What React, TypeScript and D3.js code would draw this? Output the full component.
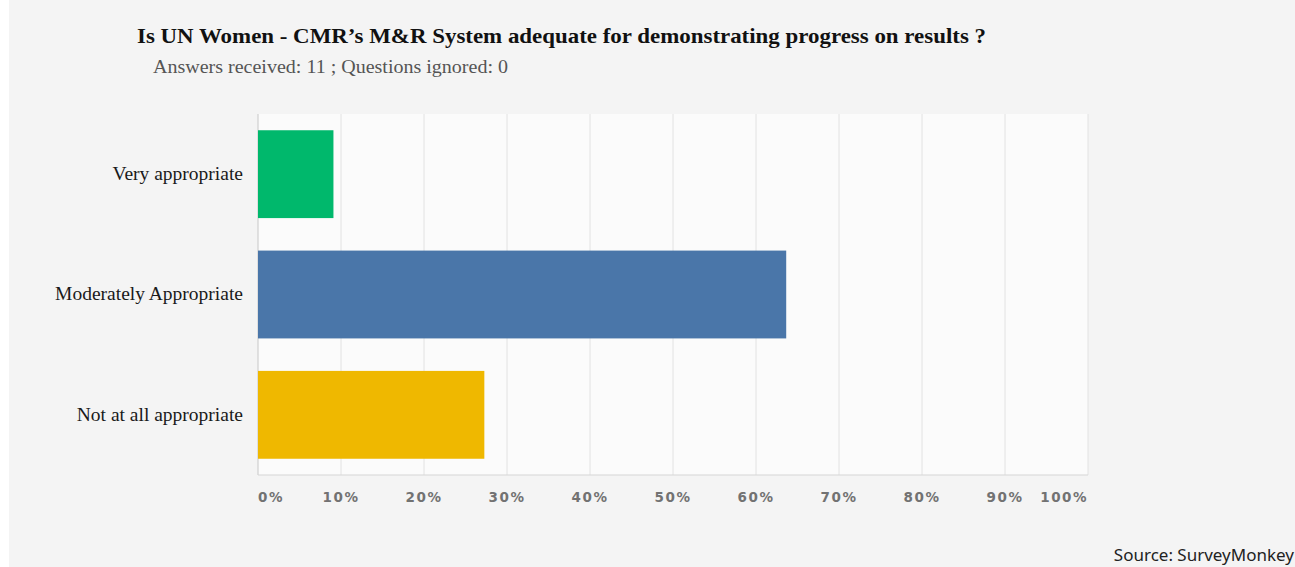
import { useMemo } from "react";
import * as d3 from "d3";

const categories = ["Very appropriate", "Moderately Appropriate", "Not at all appropriate"];
const shares = [9.09, 63.64, 27.27];
const barColors = ["#00b86c", "#4a76a9", "#efb800"];
const tickValues = [0, 10, 20, 30, 40, 50, 60, 70, 80, 90, 100];

const W = 1295;
const H = 567;

export default function App() {
  const margin = { top: 114, right: 207, bottom: 92, left: 258 };
  const innerW = W - margin.left - margin.right;
  const innerH = H - margin.top - margin.bottom;

  const x = useMemo(() => d3.scaleLinear().domain([0, 100]).range([0, innerW]), [innerW]);
  const y = useMemo(
    () => d3.scaleBand<string>().domain(categories).range([0, innerH]).paddingInner(0.27).paddingOuter(0.135),
    [innerH]
  );

  return (
    <svg width={W} height={H} style={{ position: "absolute", left: 0, top: 0 }}>
      <rect x={0} y={0} width={W} height={H} fill="#f4f4f4" />
      <rect x={0} y={0} width={9} height={H} fill="#ffffff" />

      {/* the source image is slightly stretched horizontally, so pin the widths */}
      <text
        x={137}
        y={43}
        fontFamily="'Liberation Serif', serif"
        fontWeight="bold"
        fontSize={21.5}
        fill="#111"
        textLength={849}
        lengthAdjust="spacingAndGlyphs"
      >
        Is UN Women - CMR’s M&amp;R System adequate for demonstrating progress on results ?
      </text>
      <text
        x={153}
        y={73}
        fontFamily="'Liberation Serif', serif"
        fontSize={18}
        fill="#555"
        textLength={355}
        lengthAdjust="spacingAndGlyphs"
      >
        Answers received: 11 ; Questions ignored: 0
      </text>

      <g transform={`translate(${margin.left},${margin.top})`}>
        <rect x={0} y={0} width={innerW} height={innerH} fill="#fbfbfb" />
        {tickValues.map((t) => (
          <line key={t} x1={x(t)} x2={x(t)} y1={0} y2={innerH} stroke={t === 0 ? "#c8c8c8" : "#e2e2e2"} strokeWidth={1} />
        ))}
        <line x1={0} x2={innerW} y1={innerH} y2={innerH} stroke="#d6d6d6" strokeWidth={1.2} />

        {categories.map((c, i) => (
          <rect key={c} x={x(0)} y={y(c)} width={x(shares[i]) - x(0)} height={y.bandwidth()} fill={barColors[i]} />
        ))}

        {categories.map((c) => (
          <text
            key={c}
            x={-15}
            y={(y(c) ?? 0) + y.bandwidth() / 2}
            dy="0.3em"
            textAnchor="end"
            fontFamily="'Liberation Serif', serif"
            fontSize={19.5}
            fill="#1a1a1a"
          >
            {c}
          </text>
        ))}

        {tickValues.map((t, i) => (
          <text
            key={t}
            x={x(t)}
            y={innerH + 27}
            textAnchor={i === 0 ? "start" : i === tickValues.length - 1 ? "end" : "middle"}
            fontFamily="'DejaVu Sans', sans-serif"
            fontWeight="bold"
            fontSize={13.5}
            letterSpacing={1.5}
            fill="#727272"
          >
            {t}%
          </text>
        ))}
      </g>

      <text x={W - 1} y={561} textAnchor="end" fontFamily="'Noto Sans', sans-serif" fontSize={17} fill="#222">
        Source: SurveyMonkey
      </text>
    </svg>
  );
}
